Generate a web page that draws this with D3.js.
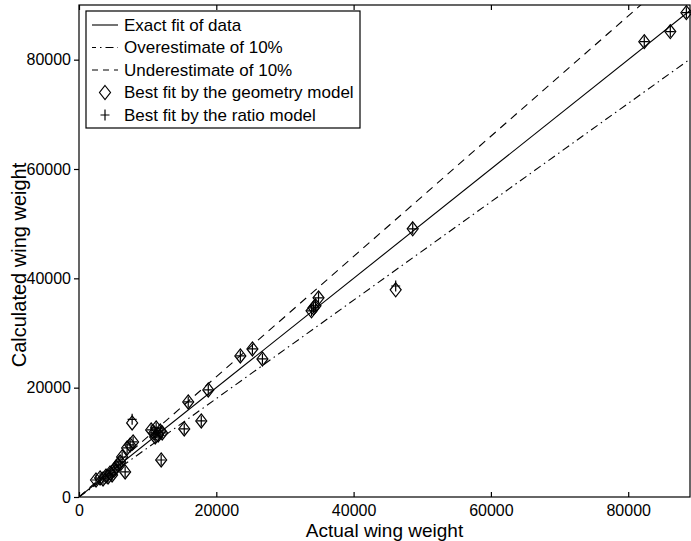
<!DOCTYPE html>
<html>
<head>
<meta charset="utf-8">
<script src="https://cdn.jsdelivr.net/npm/d3@7"></script>
<style>
  html, body { margin: 0; padding: 0; background: #fff; }
  svg { display: block; font-family: "Liberation Sans", Arial, Helvetica, sans-serif; }
</style>
</head>
<body>
<svg id="chart" width="691" height="541"></svg>
<script>
// Actual wing weight of each aircraft and the weight calculated by the two models
const actualWeight = [
  2480, 3070, 3500, 3940, 4230, 4530, 4820, 5110, 5400, 5690, 5990, 6720, 6280, 7010, 7450, 7880, 7740,
  10510, 10950, 11240, 11530, 11830, 11100, 12120, 11970,
  15330, 15910, 17810, 18830,
  23500, 25260, 26720,
  33870, 34160, 34450, 34890,
  46130, 48610,
  82340, 86130, 88470
];
const geometryModel = [
  3110, 3480, 3300, 3840, 3660, 4390, 4030, 4940, 5490, 5860, 6410, 4580, 7320, 8970, 9520, 10070, 13550,
  12270, 11720, 12630, 11350, 12080, 10980, 11720, 6770,
  12450, 17390, 13910, 19590,
  25810, 27090, 25260,
  34050, 34600, 34970, 36430,
  37900, 49060,
  83300, 85130, 88600
];
const ratioModel = [
  3110, 3480, 3300, 3840, 3660, 4390, 4030, 4940, 5490, 5860, 6410, 4580, 7320, 8970, 9520, 10070, 14200,
  12270, 11720, 12630, 11350, 12080, 10980, 11720, 6770,
  12450, 17390, 13910, 19590,
  25810, 27090, 25260,
  34050, 34600, 34970, 36430,
  38600, 49060,
  83300, 85130, 88600
];

// Reference lines: exact fit and +/-10% bands
const fitFactors = [1.0, 0.9, 1.1];
const xTicks = [0, 20000, 40000, 60000, 80000];
const yTicks = [0, 20000, 40000, 60000, 80000];
const legendLabels = [
  "Exact fit of data",
  "Overestimate of 10%",
  "Underestimate of 10%",
  "Best fit by the geometry model",
  "Best fit by the ratio model"
];

const svg = d3.select("#chart");
const plot = { left: 79, right: 690, top: 5, bottom: 497 };

const x = d3.scaleLinear().domain([0, 89000]).range([plot.left, plot.right]);
const y = d3.scaleLinear().domain([0, 90000]).range([plot.bottom, plot.top]);

svg.append("defs").append("clipPath").attr("id", "clip")
  .append("rect")
  .attr("x", plot.left).attr("y", plot.top)
  .attr("width", plot.right - plot.left).attr("height", plot.bottom - plot.top);

const dashFor = { 1.0: null, 0.9: "8,4,1.5,4", 1.1: "8,6" };

// Fit lines
const lines = svg.append("g").attr("clip-path", "url(#clip)");
fitFactors.forEach(f => {
  lines.append("line")
    .attr("x1", x(0)).attr("y1", y(0))
    .attr("x2", x(90000)).attr("y2", y(90000 * f))
    .attr("stroke", "#000")
    .attr("stroke-width", 1.1)
    .attr("stroke-dasharray", dashFor[f]);
});

// Marker shapes
const diamondPath = (cx, cy) => `M${cx},${cy - 7}L${cx + 5.5},${cy}L${cx},${cy + 7}L${cx - 5.5},${cy}Z`;
const plusPath = (cx, cy) => `M${cx - 4.5},${cy}H${cx + 4.5}M${cx},${cy - 5.5}V${cy + 5.5}`;

const marks = svg.append("g");
marks.selectAll("path.geo")
  .data(actualWeight.map((a, i) => [a, geometryModel[i]]))
  .join("path")
  .attr("class", "geo")
  .attr("d", d => diamondPath(x(d[0]), y(d[1])))
  .attr("fill", "none").attr("stroke", "#000").attr("stroke-width", 1.2);

marks.selectAll("path.ratio")
  .data(actualWeight.map((a, i) => [a, ratioModel[i]]))
  .join("path")
  .attr("class", "ratio")
  .attr("d", d => plusPath(x(d[0]), y(d[1])))
  .attr("fill", "none").attr("stroke", "#000").attr("stroke-width", 1.2);

// Axes box
svg.append("rect")
  .attr("x", plot.left).attr("y", plot.top)
  .attr("width", plot.right - plot.left).attr("height", plot.bottom - plot.top)
  .attr("fill", "none").attr("stroke", "#000").attr("stroke-width", 1.2);

// X axis (ticks inward, mirrored on top)
const xAxis = svg.append("g").attr("transform", `translate(0,${plot.bottom})`)
  .call(d3.axisBottom(x).tickValues(xTicks).tickSizeInner(-5).tickSizeOuter(0).tickPadding(8).tickFormat(d3.format("d")));
xAxis.select(".domain").remove();
xAxis.selectAll("text").attr("font-size", 16).attr("fill", "#000").attr("font-family", "Liberation Sans, Arial, sans-serif");

const xTop = svg.append("g").attr("transform", `translate(0,${plot.top})`)
  .call(d3.axisTop(x).tickValues(xTicks).tickSizeInner(-5).tickSizeOuter(0).tickFormat(""));
xTop.select(".domain").remove();

// Y axis (ticks outward)
const yAxis = svg.append("g").attr("transform", `translate(${plot.left},0)`)
  .call(d3.axisLeft(y).tickValues(yTicks).tickSizeInner(5).tickSizeOuter(0).tickPadding(3).tickFormat(d3.format("d")));
yAxis.select(".domain").remove();
yAxis.selectAll("text").attr("font-size", 16).attr("fill", "#000").attr("font-family", "Liberation Sans, Arial, sans-serif");

svg.selectAll(".tick line").attr("stroke", "#000").attr("stroke-width", 1.2);

// Axis titles
svg.append("text")
  .attr("x", (plot.left + plot.right) / 2).attr("y", 537)
  .attr("text-anchor", "middle").attr("font-size", 19)
  .text("Actual wing weight");

svg.append("text")
  .attr("transform", `translate(26,265) rotate(-90)`)
  .attr("text-anchor", "middle").attr("font-size", 20)
  .text("Calculated wing weight");

// Legend
const lg = { x: 86, y: 11, w: 274, h: 117, rowH: 22.5 };
const legend = svg.append("g");
legend.append("rect")
  .attr("x", lg.x).attr("y", lg.y).attr("width", lg.w).attr("height", lg.h)
  .attr("fill", "#fff").attr("stroke", "#000").attr("stroke-width", 1.2);

legendLabels.forEach((label, i) => {
  const ry = lg.y + 14 + i * lg.rowH;
  if (i < 3) {
    legend.append("line")
      .attr("x1", 92).attr("x2", 118).attr("y1", ry).attr("y2", ry)
      .attr("stroke", "#000").attr("stroke-width", 1.1)
      .attr("stroke-dasharray", [null, "8,4,1.5,4", "6,5"][i])
      .attr("stroke-dashoffset", [0, 4, 0][i]);
  } else if (i === 3) {
    legend.append("path").attr("d", diamondPath(105, ry))
      .attr("fill", "none").attr("stroke", "#000").attr("stroke-width", 1.2);
  } else {
    legend.append("path").attr("d", plusPath(105, ry))
      .attr("fill", "none").attr("stroke", "#000").attr("stroke-width", 1.2);
  }
  legend.append("text")
    .attr("x", 124).attr("y", ry).attr("dy", "0.35em")
    .attr("font-size", 17)
    .text(label);
});
</script>
</body>
</html>
